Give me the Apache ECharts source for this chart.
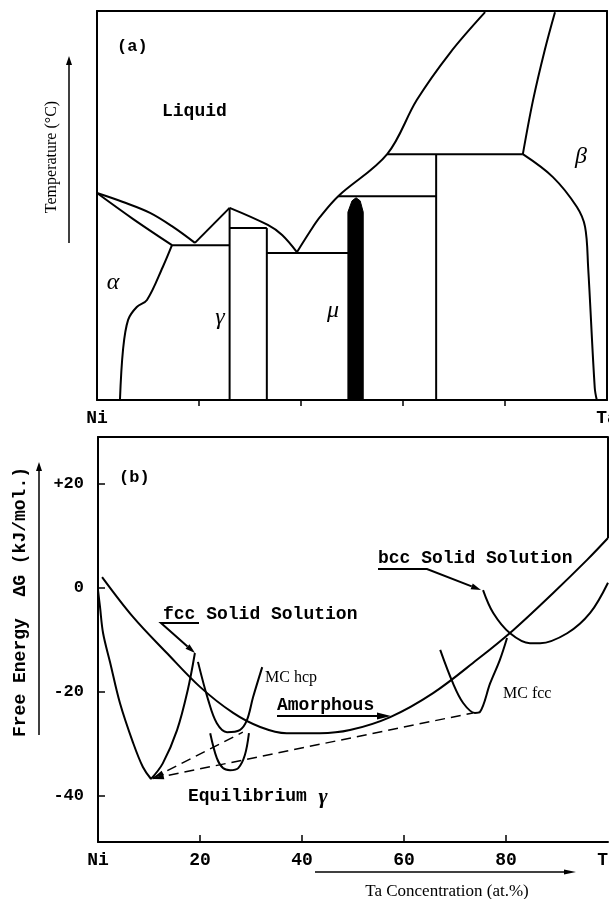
<!DOCTYPE html>
<html>
<head>
<meta charset="utf-8">
<script src="https://cdn.jsdelivr.net/npm/echarts@6/dist/echarts.min.js"></script>
<style>html,body{margin:0;padding:0;background:#fff}#c{width:609px;height:899px}</style>
</head>
<body>
<div id="c"></div>
<script>
// ---------- Panel (a): phase diagram, x = at.% Ta, y = relative temperature (0-100) ----------
const liquidusNi = [[0,53.2],[5.1,50.9],[10.4,48.1],[14.9,44.5],[19.2,40.4]];
const solidusNi = [[0,53.2],[7.1,46.5],[14.7,39.8]];
const eutectic1 = [[14.7,39.8],[26.0,39.8]];
const gammaLeftLiq = [[19.2,40.4],[26.0,49.4]];
const gammaRightLiq = [[26.0,49.4],[33.5,45.0],[36.3,42.4],[39.2,38.0]];
const gammaLeft = [[26.0,49.4],[26.0,0]];
const gammaTop = [[26.0,44.2],[33.3,44.2]];
const gammaRight = [[33.3,44.2],[33.3,0]];
const eutectic2 = [[33.3,37.8],[49.4,37.8]];
const liquidusMu = [[39.2,38.0],[41.7,43.2],[43.7,47.0],[47.3,52.4],[56.9,63.2],[62.7,77.1],[69.2,89.2],[76.1,99.7]];
const periMu = [[47.3,52.4],[66.5,52.4]];
const periTa = [[56.9,63.2],[83.5,63.2]];
const boundary66 = [[66.5,63.2],[66.5,0]];
const solidusTa = [[89.8,99.7],[87.8,90.0],[85.5,77.1],[83.5,63.2]];
const solvusTa = [[83.5,63.2],[89.4,57.3],[94.1,49.6],[95.7,44.5],[96.3,34.2],[97.6,3.1],[98.0,0]];
const solvusNi = [[14.7,39.8],[12.9,34.2],[9.8,25.7],[7.8,23.9],[6.1,20.6],[5.1,12.9],[4.5,0]];
const muPhase = [[49.2,0],[49.2,48.3],[50.0,51.2],[50.8,52.0],[51.6,51.2],[52.2,48.3],[52.2,0]];

// ---------- Panel (b): free energy (kJ/mol) vs at.% Ta ----------
const fccLeft = [[0,-0.4],[0.4,-3.7],[1.0,-8.7],[2.4,-14.4],[4.3,-22.1],[6.9,-29.8],[8.8,-34.4],[10.4,-36.7]];
const fccRight = [[10.4,-36.7],[12.7,-33.7],[15.5,-27.3],[17.6,-19.6],[19.0,-12.5]];
const amorphousCurve = [[0.8,2.1],[6.9,-5.6],[13.5,-12.5],[20,-19],[26.5,-24],[31.8,-26.7],[37,-27.9],[43.5,-27.9],[49.4,-27.3],[57.3,-24.8],[65.7,-20.2],[74.3,-13.8],[81.4,-8.1],[89.2,-1],[95.9,5.4],[100,9.6]];
const mcHcpCurve = [[19.6,-14.2],[21.6,-21.5],[23.3,-26.0],[25.3,-27.7],[27.8,-27.3],[29.2,-25.4],[30.4,-21.0],[32.2,-15.2]];
const eqGammaCurve = [[22.0,-27.9],[23.3,-32.7],[24.5,-34.6],[25.9,-35.0],[27.5,-34.6],[28.8,-32.1],[29.6,-27.9]];
const mcFccCurve = [[67.1,-11.9],[69.6,-18.3],[71.6,-22.1],[73.9,-24.0],[74.9,-23.8],[76.9,-18.3],[78.8,-13.8],[80.2,-9.6]];
const bccCurve = [[75.5,-0.4],[77.5,-4.8],[80.8,-8.7],[84.7,-10.6],[86.7,-10.6],[92,-8.7],[96.5,-4.8],[100,1]];
const tangentHcp = [[10.8,-36.5],[28.4,-27.7]];
const tangentFcc = [[10.8,-36.6],[73.5,-24.0]];
const rightFrameB = [[100,29],[100,9.6]];

const xTicks = [20,40,60,80];
const xLabelsB = [0,20,40,60,80,100];
const yTicksB = [-40,-20,0,20];

const mono = '"Liberation Mono", "DejaVu Sans Mono", monospace';
const serif = '"Liberation Serif", "DejaVu Serif", serif';

function ln(data, xi, yi, extra) {
  return Object.assign({
    type: 'line', data: data, xAxisIndex: xi, yAxisIndex: yi,
    showSymbol: false, symbol: 'none', smooth: false, silent: true,
    lineStyle: {color: '#000', width: 2}, animation: false, z: 3
  }, extra || {});
}
const sm = {smooth: 0.35};

const seriesA = [
  ln(liquidusNi, 0, 0, sm), ln(solidusNi, 0, 0, sm), ln(eutectic1, 0, 0), ln(gammaLeftLiq, 0, 0),
  ln(gammaRightLiq, 0, 0, sm), ln(gammaLeft, 0, 0), ln(gammaTop, 0, 0), ln(gammaRight, 0, 0),
  ln(eutectic2, 0, 0), ln(liquidusMu, 0, 0, sm), ln(periMu, 0, 0), ln(periTa, 0, 0), ln(boundary66, 0, 0),
  ln(solidusTa, 0, 0, sm), ln(solvusTa, 0, 0, sm), ln(solvusNi, 0, 0, sm),
  ln(muPhase, 0, 0, {areaStyle: {color: '#000', opacity: 1, origin: 'start'}, lineStyle: {color: '#000', width: 1}})
];

const seriesB = [
  ln(fccLeft, 2, 2, sm), ln(fccRight, 2, 2, sm), ln(amorphousCurve, 2, 2, sm), ln(mcHcpCurve, 2, 2, sm),
  ln(eqGammaCurve, 2, 2, sm), ln(mcFccCurve, 2, 2, sm), ln(bccCurve, 2, 2, sm),
  ln(tangentHcp, 2, 2, {lineStyle: {color: '#000', width: 1.5, type: [10, 6]}}),
  ln(tangentFcc, 2, 2, {lineStyle: {color: '#000', width: 1.5, type: [10, 6]}}),
  ln(rightFrameB, 2, 2)
];

function arrowEls(pts, lw, hl, hw) {
  const n = pts.length;
  const [x1, y1] = pts[n - 2], [x2, y2] = pts[n - 1];
  const a = Math.atan2(y2 - y1, x2 - x1);
  const bx = x2 - hl * Math.cos(a), by = y2 - hl * Math.sin(a);
  const px = -Math.sin(a) * hw, py = Math.cos(a) * hw;
  return [
    {type: 'polyline', shape: {points: pts.slice(0, n - 1).concat([[bx, by]])}, style: {stroke: '#000', lineWidth: lw, fill: null}, z: 10},
    {type: 'polygon', shape: {points: [[x2, y2], [bx + px, by + py], [bx - px, by - py]]}, style: {fill: '#000'}, z: 10}
  ];
}
function headEl(from, to, hl, hw) {
  const a = Math.atan2(to[1] - from[1], to[0] - from[0]);
  const bx = to[0] - hl * Math.cos(a), by = to[1] - hl * Math.sin(a);
  const px = -Math.sin(a) * hw, py = Math.cos(a) * hw;
  return {type: 'polygon', shape: {points: [to, [bx + px, by + py], [bx - px, by - py]]}, style: {fill: '#000'}, z: 10};
}
function txt(s, x, y, font, align, rot) {
  return {type: 'text', x: x, y: y, rotation: rot || 0, z: 10,
    style: {text: s, font: font, fill: '#000', align: align || 'left', verticalAlign: 'middle'}};
}

const graphics = [].concat(
  arrowEls([[69, 243], [69, 56]], 1.5, 9, 3),
  arrowEls([[39, 735], [39, 462]], 1.5, 9, 3),
  arrowEls([[315, 872], [576, 872]], 1.5, 12, 2.5),
  arrowEls([[199, 623], [161, 623], [195, 653]], 2, 10, 3),
  arrowEls([[378, 569], [427, 569], [481, 590]], 2, 10, 3),
  arrowEls([[277, 716], [391, 716]], 2, 14, 3.5),
  [
    headEl([243, 731], [153, 778], 11, 2.5),
    headEl([475, 713], [153, 779], 11, 2.5),
    txt('(a)', 117, 47, 'bold 17px ' + mono),
    txt('Liquid', 162, 111, 'bold 18px ' + mono),
    txt('α', 113, 283, 'italic 24px ' + serif, 'center'),
    txt('γ', 220, 318, 'italic 24px ' + serif, 'center'),
    txt('μ', 333, 311, 'italic 24px ' + serif, 'center'),
    txt('β', 581, 157, 'italic 24px ' + serif, 'center'),
    txt('Temperature (°C)', 52, 157, '16px ' + serif, 'center', Math.PI / 2),
    txt('(b)', 119, 478, 'bold 17px ' + mono),
    txt('fcc Solid Solution', 163, 614, 'bold 18px ' + mono),
    txt('MC hcp', 265, 678, '16px ' + serif),
    txt('Amorphous', 277, 705, 'bold 18px ' + mono),
    txt('bcc Solid Solution', 378, 558, 'bold 18px ' + mono),
    txt('MC fcc', 503, 694, '16px ' + serif),
    txt('Equilibrium', 188, 796, 'bold 18px ' + mono),
    txt('γ', 323, 797, 'bold italic 22px ' + serif, 'center'),
    txt('Free Energy  ΔG (kJ/mol.)', 20, 602, 'bold 18px ' + mono, 'center', Math.PI / 2),
    txt('Ta Concentration (at.%)', 447, 892, '17px ' + serif, 'center')
  ]
);

const axLine = {show: true, onZero: false, lineStyle: {color: '#000', width: 2}};
const noShow = {show: false};

const option = {
  backgroundColor: '#fff',
  animation: false,
  grid: [
    {left: 97, top: 11, width: 510, height: 389, containLabel: false, outerBoundsMode: 'none'},
    {left: 98, top: 437, width: 510, height: 405, containLabel: false, outerBoundsMode: 'none'}
  ],
  xAxis: [
    {type: 'value', gridIndex: 0, min: 0, max: 100, position: 'bottom', axisLine: axLine,
      axisTick: {show: true, inside: false, length: 6, customValues: xTicks, lineStyle: {color: '#000', width: 1.5}},
      axisLabel: {show: true, customValues: [0, 100], margin: 9, formatter: v => v === 0 ? 'Ni' : 'Ta',
        color: '#000', fontFamily: mono, fontWeight: 'bold', fontSize: 18, hideOverlap: false},
      splitLine: noShow},
    {type: 'value', gridIndex: 0, min: 0, max: 100, position: 'top', axisLine: axLine, axisTick: noShow, axisLabel: noShow, splitLine: noShow},
    {type: 'value', gridIndex: 1, min: 0, max: 100, position: 'bottom', axisLine: axLine,
      axisTick: {show: true, inside: true, length: 7, customValues: xTicks, lineStyle: {color: '#000', width: 1.5}},
      axisLabel: {show: true, customValues: xLabelsB, margin: 9,
        formatter: v => v === 0 ? 'Ni' : (v === 100 ? 'Ta' : String(v)),
        color: '#000', fontFamily: mono, fontWeight: 'bold', fontSize: 18},
      splitLine: noShow},
    {type: 'value', gridIndex: 1, min: 0, max: 100, position: 'top', axisLine: axLine, axisTick: noShow, axisLabel: noShow, splitLine: noShow}
  ],
  yAxis: [
    {type: 'value', gridIndex: 0, min: 0, max: 100, position: 'left', axisLine: axLine, axisTick: noShow, axisLabel: noShow, splitLine: noShow},
    {type: 'value', gridIndex: 0, min: 0, max: 100, position: 'right', axisLine: axLine, axisTick: noShow, axisLabel: noShow, splitLine: noShow},
    {type: 'value', gridIndex: 1, min: -48.8, max: 29, position: 'left', axisLine: axLine,
      axisTick: {show: true, inside: true, length: 7, customValues: yTicksB, lineStyle: {color: '#000', width: 1.5}},
      axisLabel: {show: true, customValues: yTicksB, margin: 14, formatter: v => v > 0 ? '+' + v : String(v),
        color: '#000', fontFamily: mono, fontWeight: 'bold', fontSize: 17},
      splitLine: noShow}
  ],
  series: seriesA.concat(seriesB),
  graphic: graphics
};

const chart = echarts.init(document.getElementById('c'), null, {renderer: 'canvas'});
chart.setOption(option);
</script>
</body>
</html>
